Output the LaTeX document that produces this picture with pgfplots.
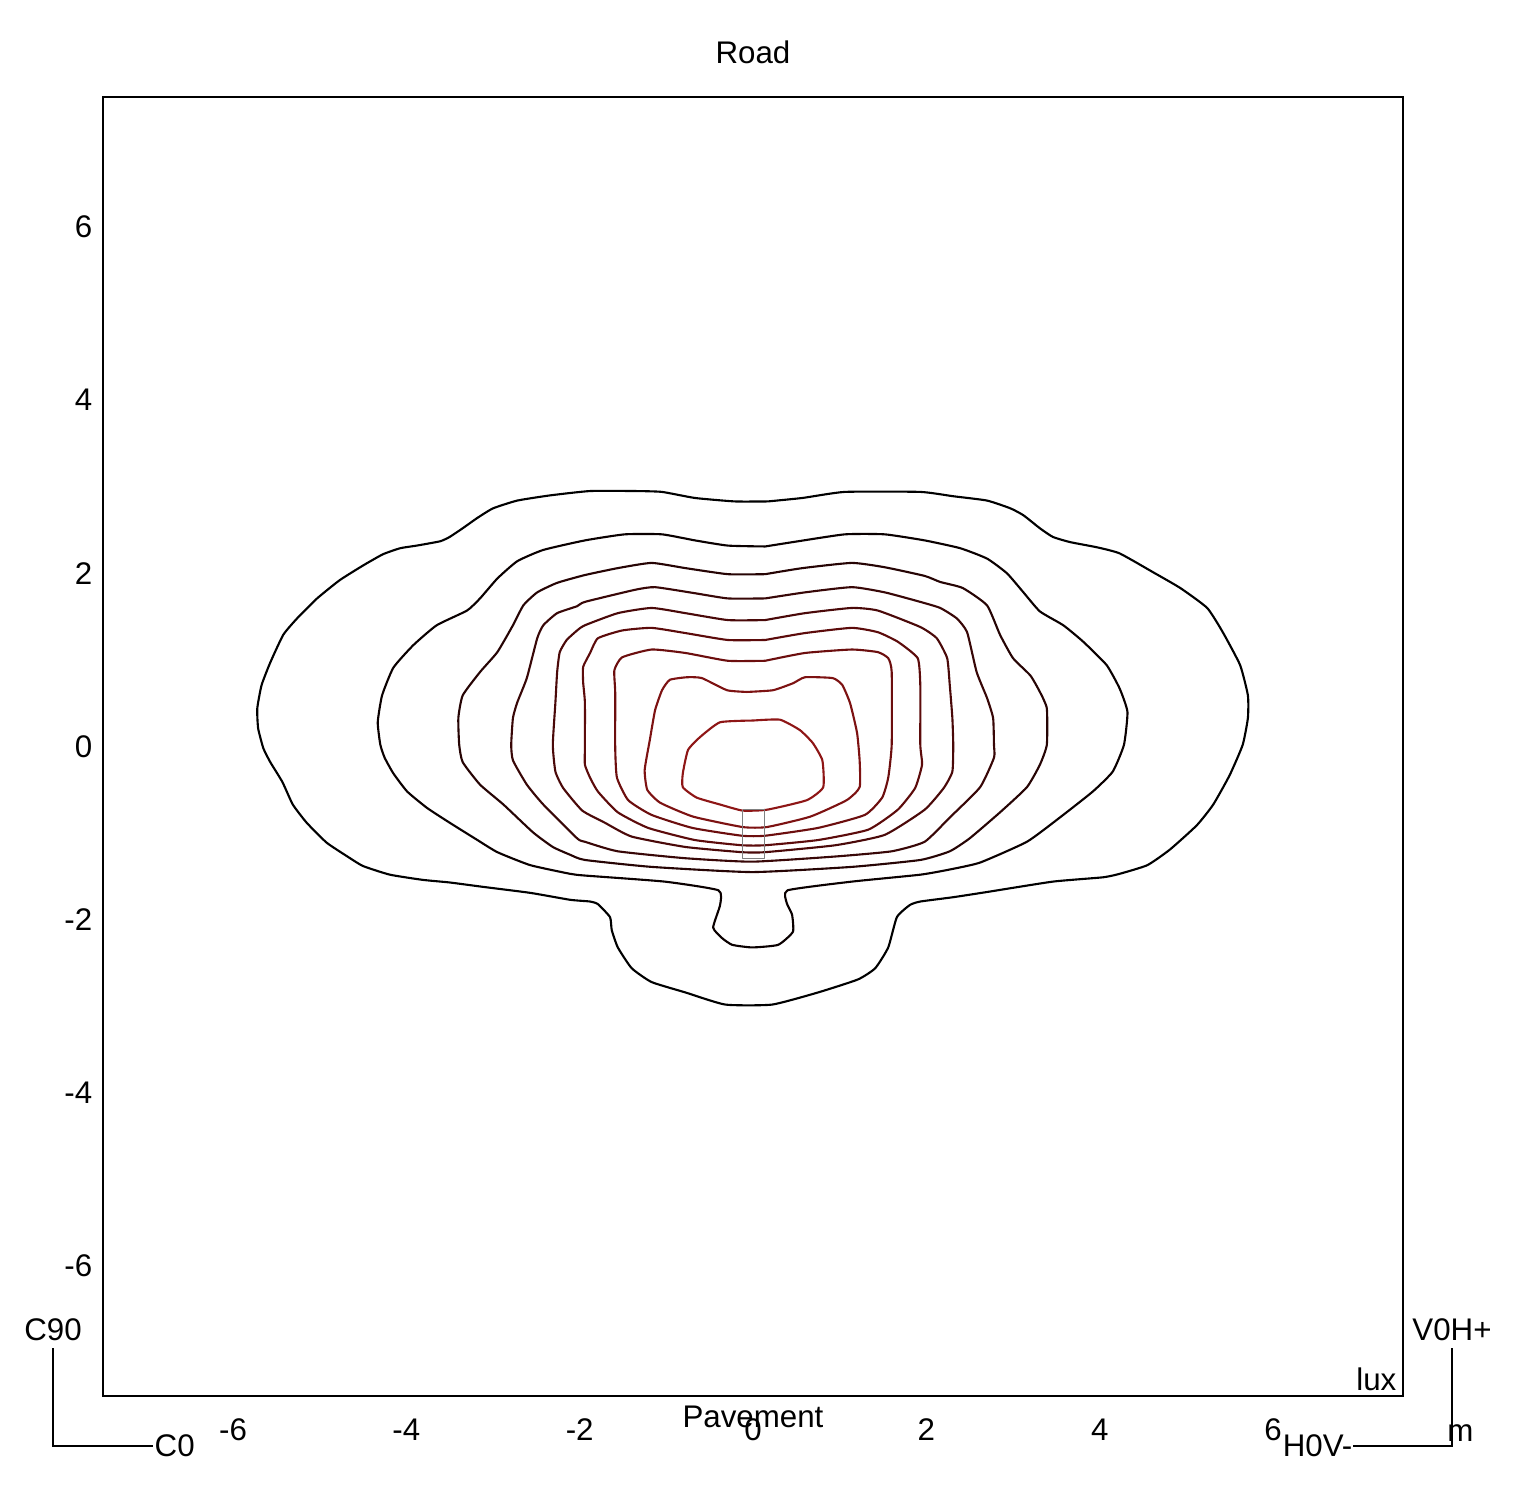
\documentclass[border=0pt]{standalone}
\usepackage{fontspec}
\setmainfont{Liberation Sans}
\usepackage{pgfplots}
\pgfplotsset{compat=1.18}
\definecolor{k1}{HTML}{000000}
\definecolor{k2}{HTML}{0A0000}
\definecolor{k3}{HTML}{260404}
\definecolor{k4}{HTML}{380707}
\definecolor{k5}{HTML}{4A0909}
\definecolor{k6}{HTML}{5C0B0B}
\definecolor{k7}{HTML}{6C0E0E}
\definecolor{k8}{HTML}{7D1212}
\definecolor{k9}{HTML}{8E1616}
\begin{document}
\fontsize{8.9}{10.5}\selectfont
\begin{tikzpicture}
\useasboundingbox (0,0) rectangle (151.6mm,149.7mm);
\begin{axis}[
  at={(10.3mm,10.1mm)}, anchor=south west,
  width=130mm, height=129.9mm, scale only axis,
  xmin=-7.5, xmax=7.5, ymin=-7.5, ymax=7.5,
  axis line style={line width=0.6pt},
  major tick length=0pt,
  xtick={-6,-4,-2,0,2,4,6}, xticklabels={-6,-4,-2,0,2,4,6},
  ytick={-6,-4,-2,0,2,4,6}, yticklabels={-6,-4,-2,0,2,4,6},
  xticklabel style={anchor=base, inner sep=0pt, yshift=-4.4mm},
  yticklabel style={anchor=east, inner sep=0pt, xshift=-1mm},
  every axis plot/.append style={no marks, line width=0.6pt, line join=round, smooth, tension=0.3},
  clip=false,
]
% contour 1
\addplot[color=k1] coordinates {
(0.17,2.83) (-0.21,2.83) (-0.67,2.87) (-1.05,2.94) (-1.36,2.95) (-1.88,2.95) (-2.34,2.90) (-2.72,2.84) (-3.00,2.75) (-3.18,2.64) (-3.35,2.52) (-3.50,2.42) (-3.61,2.37) (-3.88,2.32) (-4.07,2.29) (-4.27,2.22) (-4.50,2.09) (-4.77,1.92) (-5.03,1.71) (-5.26,1.48) (-5.42,1.29) (-5.57,0.97) (-5.67,0.71) (-5.72,0.44) (-5.71,0.21) (-5.65,-0.02) (-5.57,-0.18) (-5.43,-0.41) (-5.31,-0.67) (-5.15,-0.88) (-4.92,-1.11) (-4.68,-1.27) (-4.50,-1.38) (-4.19,-1.48) (-3.81,-1.54) (-3.50,-1.57) (-3.12,-1.62) (-2.57,-1.69) (-2.11,-1.77) (-1.88,-1.79) (-1.79,-1.82) (-1.65,-1.97) (-1.63,-2.12) (-1.56,-2.32) (-1.40,-2.56) (-1.17,-2.72) (-0.78,-2.84) (-0.32,-2.98) (0.22,-2.98) (0.75,-2.84) (1.21,-2.69) (1.41,-2.56) (1.56,-2.32) (1.66,-1.97) (1.81,-1.83) (1.93,-1.79) (2.31,-1.74) (2.70,-1.68) (3.46,-1.56) (4.04,-1.51) (4.23,-1.47) (4.55,-1.37) (4.81,-1.19) (5.12,-0.91) (5.31,-0.67) (5.50,-0.33) (5.65,0.02) (5.71,0.33) (5.71,0.59) (5.62,0.94) (5.42,1.32) (5.24,1.60) (4.93,1.83) (4.62,2.01) (4.23,2.23) (3.97,2.30) (3.66,2.36) (3.46,2.42) (3.31,2.52) (3.12,2.67) (2.97,2.75) (2.70,2.84) (2.31,2.89) (1.93,2.94) (1.06,2.94) (0.57,2.87) (0.17,2.83)
};
% contour 2
\addplot[color=k2] coordinates {
(0.14,2.31) (-0.29,2.32) (-0.67,2.38) (-1.05,2.45) (-1.48,2.45) (-1.94,2.38) (-2.42,2.27) (-2.72,2.14) (-2.95,1.94) (-3.15,1.71) (-3.30,1.57) (-3.65,1.40) (-3.92,1.17) (-4.15,0.91) (-4.28,0.59) (-4.33,0.28) (-4.30,0.02) (-4.25,-0.13) (-4.15,-0.31) (-3.99,-0.52) (-3.76,-0.71) (-3.50,-0.88) (-3.18,-1.08) (-2.95,-1.22) (-2.57,-1.37) (-2.11,-1.47) (-1.94,-1.49) (-1.02,-1.56) (-0.40,-1.66) (-0.38,-1.83) (-0.46,-2.09) (-0.36,-2.21) (-0.24,-2.29) (-0.01,-2.32) (0.29,-2.29) (0.46,-2.14) (0.45,-1.94) (0.39,-1.81) (0.40,-1.66) (1.14,-1.56) (1.93,-1.48) (2.27,-1.42) (2.62,-1.34) (3.16,-1.10) (3.54,-0.82) (3.92,-0.52) (4.15,-0.29) (4.28,0.02) (4.32,0.40) (4.23,0.67) (4.08,0.94) (3.81,1.21) (3.58,1.40) (3.31,1.56) (3.12,1.78) (2.93,2.00) (2.70,2.17) (2.39,2.29) (1.98,2.38) (1.52,2.45) (1.06,2.45) (0.52,2.37) (0.14,2.31)
};
% contour 3
\addplot[color=k3] coordinates {
(0.14,1.99) (-0.29,1.99) (-0.78,2.06) (-1.17,2.12) (-1.56,2.06) (-1.94,1.98) (-2.26,1.89) (-2.49,1.78) (-2.65,1.63) (-2.77,1.40) (-2.95,1.09) (-3.15,0.86) (-3.35,0.59) (-3.40,0.33) (-3.39,0.02) (-3.35,-0.18) (-3.15,-0.44) (-2.88,-0.67) (-2.54,-0.99) (-2.31,-1.16) (-2.11,-1.25) (-1.94,-1.31) (-1.17,-1.39) (-0.01,-1.45) (1.14,-1.39) (1.93,-1.31) (2.27,-1.21) (2.50,-1.06) (2.85,-0.76) (3.16,-0.47) (3.31,-0.21) (3.39,0.02) (3.39,0.44) (3.31,0.63) (3.20,0.82) (3.00,1.02) (2.85,1.29) (2.70,1.63) (2.42,1.83) (2.16,1.90) (1.98,1.97) (1.52,2.07) (1.14,2.12) (0.57,2.06) (0.14,1.99)
};
% contour 4
\addplot[color=k4] coordinates {
(0.14,1.71) (-0.29,1.71) (-0.67,1.77) (-1.13,1.84) (-1.36,1.81) (-1.94,1.67) (-2.03,1.62) (-2.26,1.54) (-2.42,1.40) (-2.49,1.25) (-2.61,0.79) (-2.72,0.51) (-2.77,0.33) (-2.79,0.02) (-2.77,-0.16) (-2.61,-0.44) (-2.42,-0.67) (-2.03,-1.06) (-1.94,-1.10) (-1.56,-1.21) (-0.78,-1.29) (-0.01,-1.33) (0.95,-1.27) (1.60,-1.21) (1.98,-1.10) (2.27,-0.82) (2.62,-0.47) (2.78,-0.13) (2.78,0.02) (2.77,0.33) (2.70,0.56) (2.58,0.86) (2.47,1.32) (2.35,1.48) (2.16,1.60) (1.93,1.67) (1.52,1.78) (1.14,1.84) (0.60,1.78) (0.14,1.71)
};
% contour 5
\addplot[color=k5] coordinates {
(0.14,1.46) (-0.29,1.46) (-0.78,1.54) (-1.17,1.60) (-1.56,1.54) (-1.94,1.40) (-2.03,1.34) (-2.15,1.23) (-2.23,1.09) (-2.26,0.86) (-2.28,0.51) (-2.31,0.02) (-2.28,-0.29) (-2.19,-0.48) (-1.97,-0.74) (-1.71,-0.88) (-1.40,-1.04) (-0.78,-1.16) (-0.13,-1.22) (0.14,-1.22) (0.95,-1.14) (1.52,-1.02) (1.98,-0.73) (2.20,-0.48) (2.30,-0.29) (2.31,0.02) (2.30,0.33) (2.27,0.71) (2.24,1.02) (2.12,1.25) (1.93,1.38) (1.44,1.57) (1.14,1.60) (0.60,1.54) (0.14,1.46)
};
% contour 6
\addplot[color=k6] coordinates {
(0.14,1.23) (-0.29,1.23) (-0.78,1.31) (-1.17,1.37) (-1.51,1.34) (-1.79,1.25) (-1.88,1.08) (-1.96,0.92) (-1.96,0.74) (-1.94,0.51) (-1.94,-0.02) (-1.94,-0.21) (-1.88,-0.36) (-1.79,-0.52) (-1.56,-0.76) (-1.21,-0.94) (-0.67,-1.08) (-0.13,-1.14) (0.14,-1.14) (0.75,-1.08) (1.33,-0.96) (1.67,-0.73) (1.87,-0.48) (1.95,-0.21) (1.93,0.02) (1.93,0.71) (1.90,1.02) (1.67,1.21) (1.44,1.32) (1.14,1.37) (0.60,1.31) (0.14,1.23)
};
% contour 7
\addplot[color=k7] coordinates {
(0.14,0.99) (-0.29,0.99) (-0.78,1.08) (-1.17,1.12) (-1.51,1.03) (-1.60,0.88) (-1.59,0.62) (-1.59,-0.02) (-1.57,-0.36) (-1.44,-0.62) (-1.17,-0.79) (-0.70,-0.94) (-0.13,-1.03) (0.14,-1.03) (0.75,-0.94) (1.29,-0.79) (1.49,-0.59) (1.56,-0.36) (1.60,0.02) (1.60,0.86) (1.56,1.02) (1.44,1.09) (1.14,1.12) (0.60,1.08) (0.14,0.99)
};
% contour 8
\addplot[color=k8] coordinates {
(-0.07,0.63) (-0.30,0.65) (-0.59,0.79) (-0.76,0.80) (-0.96,0.77) (-1.05,0.65) (-1.13,0.42) (-1.19,0.08) (-1.25,-0.27) (-1.22,-0.50) (-1.07,-0.65) (-0.69,-0.81) (-0.12,-0.93) (0.16,-0.93) (0.66,-0.81) (1.08,-0.62) (1.23,-0.47) (1.23,-0.16) (1.20,0.16) (1.12,0.50) (1.03,0.71) (0.92,0.79) (0.60,0.80) (0.46,0.73) (0.23,0.65) (-0.07,0.63)
};
% contour 9
\addplot[color=k9] coordinates {
(0.00,0.30) (-0.38,0.28) (-0.61,0.11) (-0.75,-0.04) (-0.81,-0.31) (-0.81,-0.47) (-0.65,-0.59) (-0.38,-0.67) (-0.12,-0.74) (0.16,-0.73) (0.62,-0.62) (0.81,-0.47) (0.80,-0.16) (0.69,0.04) (0.54,0.19) (0.31,0.31) (0.00,0.30)
};
% luminaire outline
\addplot[color=gray, line width=0.4pt, sharp plot] coordinates {
(-0.12,-0.73) (0.13,-0.73) (0.13,-1.29) (-0.12,-1.29) (-0.12,-0.73)
};
\end{axis}
\node[anchor=base] at (75.3mm,143.3mm) {Road};
\node[anchor=base] at (75.3mm,7.0mm) {Pavement};
\node[anchor=base east, inner sep=0pt] at (139.7mm,10.7mm) {lux};
\node[anchor=base, inner sep=0pt] at (5.3mm,15.7mm) {C90};
\draw[line width=0.6pt] (5.3mm,14.9mm) -- (5.3mm,5.1mm) -- (15.3mm,5.1mm);
\node[anchor=west, inner sep=0pt] at (15.4mm,5.1mm) {C0};
\node[anchor=base, inner sep=0pt] at (145.2mm,15.7mm) {V0H+};
\draw[line width=0.6pt] (145.2mm,14.9mm) -- (145.2mm,5.1mm) -- (135.3mm,5.1mm);
\node[anchor=east, inner sep=0pt] at (135.3mm,5.1mm) {H0V-};
\node[anchor=base, inner sep=0pt] at (146.05mm,5.6mm) {m};
\end{tikzpicture}
\end{document}
